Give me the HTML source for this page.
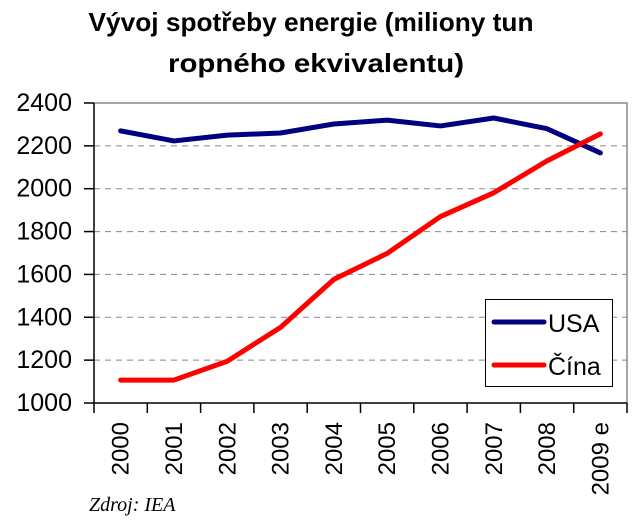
<!DOCTYPE html>
<html><head><meta charset="utf-8"><style>
body{margin:0;background:#fff;}
svg{display:block;font-family:"Liberation Sans",sans-serif;}
</style></head><body>
<svg width="640" height="524">
<g id="title">
<text x="311" y="31" text-anchor="middle" font-size="26" font-weight="bold" textLength="445" lengthAdjust="spacingAndGlyphs">Vývoj spotřeby energie (miliony tun</text>
<text x="316" y="72" text-anchor="middle" font-size="26" font-weight="bold" textLength="296" lengthAdjust="spacingAndGlyphs">ropného ekvivalentu)</text>
</g>
<g id="plot"></g>
<g id="legend">
<rect x="485.5" y="299.5" width="127" height="87" fill="#fff" stroke="#000" stroke-width="1"/>
<line x1="494" y1="322" x2="544" y2="322" stroke="#000080" stroke-width="5" stroke-linecap="round"/>
<text x="548" y="332" font-size="25">USA</text>
<line x1="494" y1="365" x2="544" y2="365" stroke="#ff0000" stroke-width="5" stroke-linecap="round"/>
<text x="548" y="375" font-size="25">Čína</text>
</g>
<text x="89" y="511" font-size="20" font-style="italic" font-family="Liberation Serif, serif">Zdroj: IEA</text>
</svg>
<script>
const categories=["2000","2001","2002","2003","2004","2005","2006","2007","2008","2009 e"];
const usa=[2270,2223,2250,2260,2302,2320,2293,2330,2280,2167];
const cina=[1107,1107,1195,1353,1577,1698,1870,1981,2130,2256];
const yTicks=[1000,1200,1400,1600,1800,2000,2200,2400];
const L=94,R=627,T=103,B=403,ymin=1000,ymax=2400;
const NS="http://www.w3.org/2000/svg";
const g=document.getElementById('plot');
const step=(R-L)/categories.length;
const xs=i=>L+step*(i+0.5);
const ys=v=>B-(v-ymin)/(ymax-ymin)*(B-T);
function mk(t,a){const e=document.createElementNS(NS,t);for(const k in a)e.setAttribute(k,a[k]);g.appendChild(e);return e;}
yTicks.forEach(v=>{
 const y=ys(v);
 if(v>ymin&&v<ymax){const l=mk('line',{x1:L,x2:R,y1:y,y2:y,stroke:'#888','stroke-dasharray':'6,5','stroke-width':1});
 
 }
 const tk=mk('line',{x1:L-10,x2:L,y1:y,y2:y,stroke:'#000','stroke-width':1.5});
 
 
 const t=mk('text',{x:L-22,y:y+8,'text-anchor':'end','font-size':25});
 t.textContent=v;
 
 
});
const fr=mk('path',{d:`M${L},${T}H${R}V${B}`,fill:'none',stroke:'#888','stroke-width':1.5});


const ax=mk('path',{d:`M${L},${T}V${B}H${R}`,fill:'none',stroke:'#000','stroke-width':1.5});


for(let i=0;i<=categories.length;i++){
 const x=L+step*i;
 const tk=mk('line',{x1:x,x2:x,y1:B,y2:B+10,stroke:'#000','stroke-width':1.5});
 
 
}
categories.forEach((c,i)=>{
 const x=xs(i)+8,y=422;
 const t=mk('text',{x:x,y:y,'text-anchor':'end','font-size':24,transform:`rotate(-90 ${x} ${y})`});
 t.textContent=c;
 
 
});
function series(d,col,name){
 const p=mk('polyline',{points:d.map((v,i)=>xs(i)+','+ys(v)).join(' '),fill:'none',stroke:col,'stroke-width':5,'stroke-linejoin':'round','stroke-linecap':'round'});
 
 
}
series(usa,'#000080','usa-line');
series(cina,'#ff0000','cina-line');
g.parentNode.appendChild(document.getElementById('legend'));
</script>
</body></html>
